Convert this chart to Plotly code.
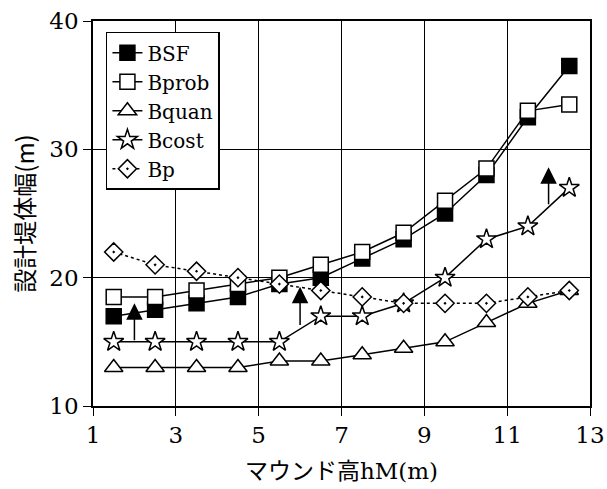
import plotly.graph_objects as go

x = [1.5, 2.5, 3.5, 4.5, 5.5, 6.5, 7.5, 8.5, 9.5, 10.5, 11.5, 12.5]
bsf = [17, 17.5, 18, 18.5, 19.5, 20, 21.5, 23, 25, 28, 32.5, 36.5]
bprob = [18.5, 18.5, 19, 19.5, 20, 21, 22, 23.5, 26, 28.5, 33, 33.5]
bquan = [13, 13, 13, 13, 13.5, 13.5, 14, 14.5, 15, 16.5, 18, 19]
bcost = [15, 15, 15, 15, 15, 17, 17, 18, 20, 23, 24, 27]
bp = [22, 21, 20.5, 20, 19.5, 19, 18.5, 18, 18, 18, 18.5, 19]

arrow_x = [2, 6, 12]
arrow_from = [15, 16.2, 25.6]
arrow_to = [18, 19.3, 28.6]

x_ticks = [1, 3, 5, 7, 9, 11, 13]
y_ticks = [10, 20, 30, 40]

serif = "DejaVu Serif, Noto Sans CJK JP"
gothic = "Noto Sans CJK JP"

fig = go.Figure()

def add(name, ys, symbol, size, fill, dash="solid"):
    fig.add_trace(go.Scatter(
        x=x, y=ys, name=name, mode="lines+markers",
        line=dict(color="black", width=1.5, dash=dash),
        marker=dict(symbol=symbol, size=size, color=fill,
                    line=dict(color="black", width=1.5)),
    ))

add("BSF", bsf, "square", 15, "black")
add("Bprob", bprob, "square", 15, "white")
add("Bquan", bquan, "triangle-up", 16, "white")
add("Bcost", bcost, "star", 15, "white")
add("Bp", bp, "diamond-dot", 14, "white", dash="dot")

for ax_, a0, a1 in zip(arrow_x, arrow_from, arrow_to):
    fig.add_annotation(x=ax_, y=a1, ax=ax_, ay=a0, xref="x", yref="y",
                       axref="x", ayref="y", text="", showarrow=True,
                       arrowhead=2, arrowsize=2.2, arrowwidth=1.5,
                       arrowcolor="black")

fig.update_layout(
    width=607, height=489,
    margin=dict(l=93, r=17, t=21, b=83),
    paper_bgcolor="white", plot_bgcolor="white",
    font=dict(family=serif, size=21, color="black"),
    showlegend=True,
    legend=dict(x=0.026, y=0.972, xanchor="left", yanchor="top",
                bgcolor="white", bordercolor="black", borderwidth=1.5,
                font=dict(family=serif, size=20), itemwidth=30,
                tracegroupgap=0),
)
fig.update_xaxes(
    range=[1, 13], tickvals=x_ticks, ticktext=[str(v) for v in x_ticks],
    showgrid=True, gridcolor="black", gridwidth=1.2, automargin=False,
    showline=True, linecolor="black", linewidth=1.5, mirror=True,
    ticks="outside", ticklen=8, tickcolor="black", tickwidth=1.2,
    tickfont=dict(family=serif, size=23), zeroline=False,
    title=dict(text="マウンド高hM(m)", font=dict(family=serif, size=23), standoff=16),
)
fig.update_yaxes(
    range=[10, 40], tickvals=y_ticks, ticktext=[str(v) for v in y_ticks],
    showgrid=True, gridcolor="black", gridwidth=1.2, automargin=False,
    showline=True, linecolor="black", linewidth=1.5, mirror=True,
    ticks="outside", ticklen=8, tickcolor="black", tickwidth=1.2,
    tickfont=dict(family=serif, size=23), zeroline=False,
    title=dict(text="設計堤体幅(m)", font=dict(family=gothic, size=24), standoff=8),
)

fig.write_html("out.html")
